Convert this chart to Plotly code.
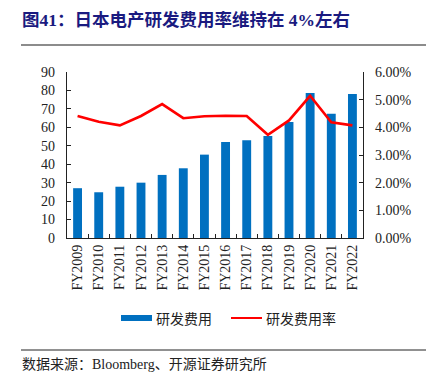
import plotly.graph_objects as go

categories = ["FY2009", "FY2010", "FY2011", "FY2012", "FY2013", "FY2014", "FY2015",
              "FY2016", "FY2017", "FY2018", "FY2019", "FY2020", "FY2021", "FY2022"]
rd_expense = [27.0, 24.8, 27.8, 30.0, 34.2, 37.8, 45.2, 52.1, 53.0, 55.3, 62.9, 78.6, 67.4, 78.1]
rd_ratio = [0.0441, 0.0420, 0.0407, 0.0441, 0.0484, 0.0433, 0.0440, 0.0442, 0.0441,
            0.0373, 0.0425, 0.0514, 0.0418, 0.0407]
left_ticks = [0, 10, 20, 30, 40, 50, 60, 70, 80, 90]
right_ticks = [0, 0.01, 0.02, 0.03, 0.04, 0.05, 0.06]

BLUE = "#0070C0"
RED = "#FF0000"
SERIF = "Liberation Serif, Times New Roman, serif"
MIXED = "Liberation Serif, Noto Sans CJK SC, serif"
CJK = "Noto Sans CJK SC, sans-serif"

fig = go.Figure()
fig.add_trace(go.Bar(x=categories, y=rd_expense, name="研发费用", marker_color=BLUE,
                     marker_line_width=0, width=0.42, yaxis="y"))
fig.add_trace(go.Scatter(x=categories, y=rd_ratio, name="研发费用率", mode="lines",
                         line=dict(color=RED, width=2.6), yaxis="y2"))

# page body has an 8px default margin; lay out in window pixels and compensate
OFF = 8
W, H = 434 - OFF, 383 - OFF
PL, PR, PT, PB = 67, 363, 72, 238  # plot area in window pixels
L, T = PL - OFF, PT - OFF
R, B = W - (PR - OFF), H - (PB - OFF)
PW, PH = PR - PL, PB - PT
fig.update_layout(
    width=W, height=H,
    margin=dict(l=L, r=R, t=T, b=B, autoexpand=False),
    paper_bgcolor="white", plot_bgcolor="white",
    showlegend=False,
    xaxis=dict(showline=True, linecolor="#222", linewidth=1.2, ticks="inside",
               tickson="boundaries", ticklen=4, tickcolor="#222", tickangle=-90,
               tickfont=dict(family=SERIF, size=14, color="#222"), showgrid=False),
    yaxis=dict(range=[0, 90], tickvals=left_ticks, showline=True, linecolor="#222",
               linewidth=1.2, ticks="inside", ticklen=4, tickcolor="#222",
               tickfont=dict(family=SERIF, size=14, color="#222"), showgrid=False,
               zeroline=False, ticklabelstandoff=8),
    yaxis2=dict(range=[0, 0.06], tickvals=right_ticks, tickformat=".2%", overlaying="y",
                side="right", showline=True, linecolor="#222", linewidth=1.2,
                ticks="inside", ticklen=4, tickcolor="#222",
                tickfont=dict(family=SERIF, size=14, color="#222"), showgrid=False,
                zeroline=False, ticklabelstandoff=8),
)

def px(x):
    return (x - PL) / PW

def py(y):
    return 1 - (y - PT) / PH

def ann(text, x, y, size, color, family, anchor="left"):
    return dict(text=text, x=px(x), y=py(y), xref="paper", yref="paper",
                xanchor=anchor, yanchor="middle", showarrow=False,
                font=dict(family=family, size=size, color=color))

annotations = [
    ann("<b>图41：日本电产研发费用率维持在 4%左右</b>", 20, 20, 17.5, "#1A1A80", MIXED),
    ann("数据来源：Bloomberg、开源证券研究所", 20, 364, 14, "#222", MIXED),
    ann("研发费用", 154, 318, 14, "#222", CJK),
    ann("研发费用率", 264, 318, 14, "#222", CJK),
]
shapes = [
    dict(type="line", xref="paper", yref="paper", x0=px(21), x1=px(434), y0=py(45), y1=py(45),
         line=dict(color="#8C8C8C", width=2)),
    dict(type="line", xref="paper", yref="paper", x0=px(21), x1=px(434), y0=py(350), y1=py(350),
         line=dict(color="#222", width=1)),
    dict(type="rect", xref="paper", yref="paper", x0=px(121), x1=px(152), y0=py(321),
         y1=py(315), fillcolor=BLUE, line=dict(width=0)),
    dict(type="line", xref="paper", yref="paper", x0=px(231), x1=px(262), y0=py(318),
         y1=py(318), line=dict(color=RED, width=2)),
]
fig.update_layout(annotations=annotations, shapes=shapes)

fig.write_html("out.html")
